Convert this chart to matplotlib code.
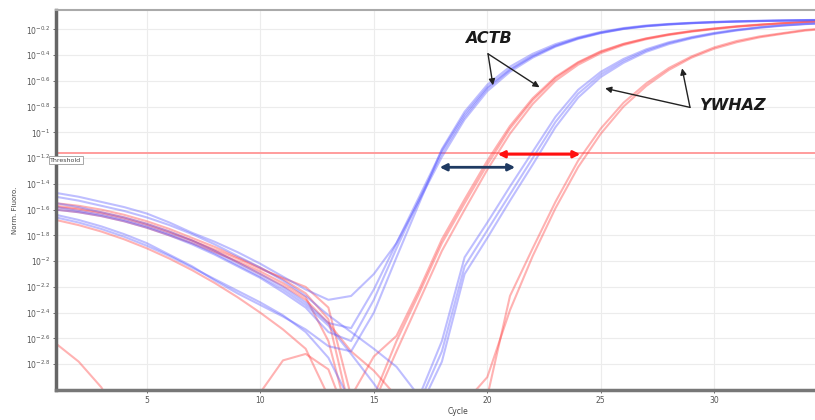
import numpy as np
import matplotlib
matplotlib.use("Agg")
import matplotlib.pyplot as plt
from matplotlib.ticker import FuncFormatter

# cycles and log10(normalised fluorescence)
cycles = list(range(1, 36))

# ACTB, blue run
actb_blue_1 = [-1.47, -1.50, -1.54, -1.58, -1.63, -1.70, -1.78, -1.85, -1.93, -2.02, -2.12, -2.22, -2.30, -2.27, -2.10,
               -1.86, -1.53, -1.19, -0.90, -0.68, -0.53, -0.42, -0.335, -0.275, -0.23, -0.198, -0.177, -0.163, -0.153,
               -0.146, -0.14, -0.136, -0.133, -0.13, -0.128]
actb_blue_2 = [-1.55, -1.58, -1.62, -1.66, -1.71, -1.77, -1.84, -1.92, -2.01, -2.10, -2.20, -2.32, -2.48, -2.52, -2.22,
               -1.86, -1.50, -1.14, -0.86, -0.65, -0.51, -0.405, -0.325, -0.268, -0.225, -0.194, -0.174, -0.16, -0.151,
               -0.144, -0.139, -0.135, -0.132, -0.129, -0.127]
actb_blue_3 = [-1.64, -1.68, -1.73, -1.79, -1.86, -1.95, -2.04, -2.15, -2.25, -2.34, -2.43, -2.53, -2.66, -2.70, -2.40,
               -1.97, -1.55, -1.13, -0.84, -0.63, -0.49, -0.39, -0.315, -0.262, -0.22, -0.19, -0.17, -0.158, -0.149,
               -0.142, -0.137, -0.133, -0.13, -0.128, -0.126]
actb_blue_4 = [-1.60, -1.62, -1.65, -1.69, -1.74, -1.80, -1.87, -1.95, -2.04, -2.13, -2.24, -2.36, -2.55, -2.62, -2.30,
               -1.90, -1.52, -1.16, -0.88, -0.66, -0.515, -0.41, -0.33, -0.27, -0.227, -0.196, -0.175, -0.162, -0.152,
               -0.145, -0.14, -0.136, -0.133, -0.13, -0.128]

# ACTB, red run
actb_red_1 = [-1.55, -1.57, -1.60, -1.64, -1.69, -1.75, -1.82, -1.89, -1.97, -2.05, -2.14, -2.25, -2.45, -3.20, -3.05,
              -2.62, -2.25, -1.86, -1.55, -1.25, -0.97, -0.75, -0.58, -0.46, -0.375, -0.315, -0.272, -0.24, -0.215,
              -0.195, -0.178, -0.165, -0.153, -0.143, -0.136]
actb_red_2 = [-1.60, -1.62, -1.65, -1.69, -1.74, -1.80, -1.86, -1.93, -2.00, -2.08, -2.17, -2.28, -2.62, -3.30, -3.10,
              -2.70, -2.31, -1.92, -1.60, -1.29, -1.01, -0.78, -0.60, -0.475, -0.385, -0.322, -0.277, -0.244, -0.218,
              -0.198, -0.18, -0.166, -0.154, -0.144, -0.137]
actb_red_3 = [-1.58, -1.60, -1.63, -1.67, -1.72, -1.78, -1.84, -1.91, -1.98, -2.06, -2.13, -2.20, -2.36, -3.05, -2.74,
              -2.58, -2.22, -1.83, -1.52, -1.22, -0.95, -0.735, -0.57, -0.455, -0.37, -0.312, -0.27, -0.238, -0.213,
              -0.193, -0.176, -0.163, -0.152, -0.142, -0.135]

# YWHAZ, blue run
ywhaz_blue_1 = [-1.50, -1.53, -1.57, -1.61, -1.66, -1.72, -1.79, -1.87, -1.96, -2.05, -2.15, -2.27, -2.42, -2.55, -2.68,
                -2.82, -3.05, -2.62, -1.97, -1.70, -1.42, -1.15, -0.88, -0.67, -0.53, -0.43, -0.355, -0.30, -0.26,
                -0.228, -0.203, -0.183, -0.168, -0.157, -0.15]
ywhaz_blue_2 = [-1.58, -1.61, -1.64, -1.68, -1.73, -1.79, -1.86, -1.94, -2.03, -2.12, -2.22, -2.34, -2.50, -2.72, -2.95,
                -3.20, -3.10, -2.70, -2.04, -1.76, -1.48, -1.20, -0.92, -0.70, -0.55, -0.445, -0.365, -0.307, -0.265,
                -0.232, -0.206, -0.186, -0.17, -0.159, -0.151]
ywhaz_blue_3 = [-1.66, -1.70, -1.75, -1.81, -1.88, -1.96, -2.05, -2.14, -2.23, -2.32, -2.42, -2.55, -2.75, -3.10, -3.30,
                -3.30, -3.15, -2.78, -2.10, -1.82, -1.53, -1.25, -0.96, -0.73, -0.57, -0.46, -0.375, -0.315, -0.27,
                -0.236, -0.209, -0.188, -0.172, -0.16, -0.152]

# YWHAZ, red run
ywhaz_red_1 = [-1.68, -1.72, -1.77, -1.83, -1.90, -1.98, -2.07, -2.17, -2.28, -2.40, -2.53, -2.68, -3.05, -3.40, -3.40,
               -3.40, -3.40, -3.40, -3.40, -3.05, -2.27, -1.90, -1.54, -1.22, -0.97, -0.77, -0.62, -0.50, -0.41,
               -0.34, -0.29, -0.255, -0.23, -0.205, -0.19]
ywhaz_red_2 = [-1.57, -1.59, -1.62, -1.66, -1.71, -1.77, -1.84, -1.92, -2.01, -2.10, -2.19, -2.30, -2.48, -2.70, -2.85,
               -3.05, -3.30, -3.30, -3.10, -2.90, -2.38, -1.96, -1.59, -1.27, -1.01, -0.80, -0.64, -0.515, -0.42,
               -0.35, -0.30, -0.262, -0.235, -0.21, -0.195]

# short red traces near the floor
ntc_a_cycles = [1, 2, 3, 4]
ntc_a = [-2.64, -2.78, -2.98, -3.30]
ntc_b_cycles = [9, 10, 11, 12, 13, 14]
ntc_b = [-3.40, -3.02, -2.77, -2.72, -2.84, -3.30]

threshold = -1.163
y_ticks = [-0.2, -0.4, -0.6, -0.8, -1.0, -1.2, -1.4, -1.6, -1.8, -2.0, -2.2, -2.4, -2.6, -2.8]
x_ticks = [5, 10, 15, 20, 25, 30]

blue = '#5656ff'
red = '#ff4040'

fig = plt.figure(figsize=(8.15, 4.2), dpi=100)
ax = fig.add_axes([56 / 815, 30 / 420, 759 / 815, 380 / 420])

for yy in [actb_red_1, actb_red_2, actb_red_3, ywhaz_red_1, ywhaz_red_2]:
    ax.plot(cycles, yy, color=red, lw=1.5, alpha=0.4, solid_capstyle='round')
for yy in [actb_blue_1, actb_blue_2, actb_blue_3, actb_blue_4, ywhaz_blue_1, ywhaz_blue_2, ywhaz_blue_3]:
    ax.plot(cycles, yy, color=blue, lw=1.5, alpha=0.38, solid_capstyle='round')
ax.plot(ntc_a_cycles, ntc_a, color=red, lw=1.5, alpha=0.4)
ax.plot(ntc_b_cycles, ntc_b, color=red, lw=1.5, alpha=0.4)

# threshold
ax.axhline(threshold, color='#ff9c9c', lw=1.4, zorder=1)
ax.text(0.75, -1.215, 'Threshold', fontsize=4.5, va='center', ha='left', color='#444444', clip_on=False,
        bbox=dict(boxstyle='square,pad=0.2', fc='white', ec='#9a9a9a', lw=0.6), zorder=5)

# delta arrows
ax.annotate('', xy=(21.35, -1.271), xytext=(17.78, -1.271),
            arrowprops=dict(arrowstyle='<|-|>', color='#1f3a62', lw=2, mutation_scale=10))
ax.annotate('', xy=(24.22, -1.17), xytext=(20.34, -1.17),
            arrowprops=dict(arrowstyle='<|-|>', color='#ff1010', lw=2, mutation_scale=10))

# gene labels
ax.text(20.03, -0.27, 'ACTB', fontsize=11.5, fontweight='bold', fontstyle='italic', ha='center', va='center',
        color='#1a1a1a')
for tip in [(20.25, -0.635), (22.3, -0.65)]:
    ax.annotate('', xy=tip, xytext=(20.03, -0.39),
                arrowprops=dict(arrowstyle='-|>', color='#222222', lw=1, mutation_scale=9, shrinkA=0, shrinkB=0))
ax.text(30.85, -0.79, 'YWHAZ', fontsize=11.5, fontweight='bold', fontstyle='italic', ha='center', va='center',
        color='#1a1a1a')
for tip in [(25.19, -0.658), (28.58, -0.503)]:
    ax.annotate('', xy=tip, xytext=(28.93, -0.806),
                arrowprops=dict(arrowstyle='-|>', color='#222222', lw=1, mutation_scale=9, shrinkA=0, shrinkB=0))

ax.set_xlim(1, 1 + 759 / 22.7)
ax.set_ylim(-3.0, -0.05)
ax.set_xticks(x_ticks)
ax.set_yticks(y_ticks)
ax.yaxis.set_major_formatter(FuncFormatter(lambda v, p: r'$10^{%g}$' % round(v, 1)))
ax.tick_params(axis='both', labelsize=5.5, colors='#555555', length=2, width=0.6, pad=2)
ax.grid(True, color='#ececec', lw=0.8)
ax.set_axisbelow(True)

ax.spines['right'].set_visible(False)
ax.spines['left'].set_color('#666666')
ax.spines['left'].set_linewidth(2.5)
ax.spines['bottom'].set_color('#777777')
ax.spines['bottom'].set_linewidth(2.5)
ax.spines['top'].set_color('#aaaaaa')
ax.spines['top'].set_linewidth(1.5)

fig.text(15 / 815, 1 - 210 / 420, 'Norm. Fluoro.', rotation=90, fontsize=5, color='#444444', ha='center', va='center')
fig.text(458 / 815, 1 - 412 / 420, 'Cycle', fontsize=5.5, color='#444444', ha='center', va='center')

fig.savefig('out.png', dpi=100)
